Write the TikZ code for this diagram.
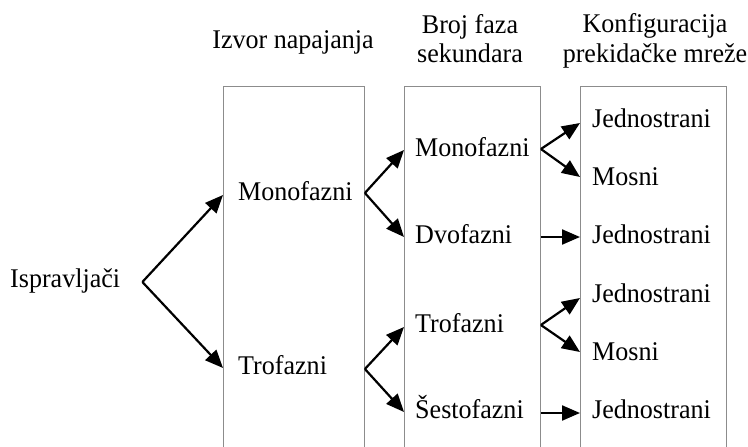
\documentclass[tikz,border=0pt]{standalone}
\usepackage{fontspec}
\setmainfont[FakeStretch=0.965]{Liberation Serif}
\usetikzlibrary{arrows.meta,calc}
\tikzset{
  txt/.style={inner sep=0pt, anchor=base west, font=\fontsize{27}{30}\selectfont},
  head/.style={inner sep=0pt, anchor=base, font=\fontsize{27}{30}\selectfont},
  boxst/.style={draw=black!45, line width=0.9pt, anchor=north west, inner sep=0pt, minimum height=366pt},
  arr/.style={draw=black, line width=2.2pt, -{Triangle[length=18pt,width=15pt]}}
}
\begin{document}
\begin{tikzpicture}[x=1pt,y=-1pt]
\useasboundingbox (0,0) rectangle (748,447);
% boxes
\node[boxst, minimum width=141pt] (box1) at (223,86) {};
\node[boxst, minimum width=136pt] (box2) at (404,86) {};
\node[boxst, minimum width=146pt] (box3) at (580,86) {};
% headings
\node[head] (h1) at (293,48) {Izvor napajanja};
\node[head] (h2a) at (470,33) {Broj faza};
\node[head] (h2b) at (470,63) {sekundara};
\node[head] (h3a) at (655,32) {Konfiguracija};
\node[head] (h3b) at (655,62) {prekidačke mreže};
% column 0
\node[txt] (isp) at (10,287) {Ispravljači};
% column 1
\node[txt] (mono1) at (238,200) {Monofazni};
\node[txt] (tro1) at (238,374) {Trofazni};
% column 2
\node[txt] (mono2) at (415,156) {Monofazni};
\node[txt] (dvo) at (415,243) {Dvofazni};
\node[txt] (tro2) at (415,332) {Trofazni};
\node[txt] (sest) at (415,418) {Šestofazni};
% column 3
\node[txt] (j1) at (592,127) {Jednostrani};
\node[txt] (m1) at (592,185) {Mosni};
\node[txt] (j2) at (592,243) {Jednostrani};
\node[txt] (j3) at (592,302) {Jednostrani};
\node[txt] (m2) at (592,360) {Mosni};
\node[txt] (j4) at (592,418) {Jednostrani};
% fork points
\coordinate (fA) at ($(isp.base east)+(22,-5)$);
\coordinate (fB) at ([yshift=7pt]mono1.base -| box1.east);
\coordinate (fC) at ([yshift=5pt]tro1.base -| box1.east);
\coordinate (fD) at ([yshift=7pt]mono2.base -| box2.east);
\coordinate (fE) at ([yshift=6pt]dvo.base -| box2.east);
\coordinate (fF) at ([yshift=7pt]tro2.base -| box2.east);
\coordinate (fG) at ([yshift=5pt]sest.base -| box2.east);
% connectors
\draw[arr] (fA) -- ([yshift=5pt]mono1.base -| box1.west);
\draw[arr] (fA) -- ([yshift=6pt]tro1.base -| box1.west);
\draw[arr] (fB) -- ([yshift=6pt]mono2.base -| box2.west);
\draw[arr] (fB) -- ([yshift=6pt]dvo.base -| box2.west);
\draw[arr] (fC) -- ([yshift=5pt]tro2.base -| box2.west);
\draw[arr] (fC) -- ([yshift=6pt]sest.base -| box2.west);
\draw[arr] (fD) -- ([yshift=4pt]j1.base -| box3.west);
\draw[arr] (fD) -- ([yshift=8pt]m1.base -| box3.west);
\draw[arr] (fE) -- (fE -| box3.west);
\draw[arr] (fF) -- ([yshift=4pt]j3.base -| box3.west);
\draw[arr] (fF) -- ([yshift=8pt]m2.base -| box3.west);
\draw[arr] (fG) -- (fG -| box3.west);
\end{tikzpicture}
\end{document}
